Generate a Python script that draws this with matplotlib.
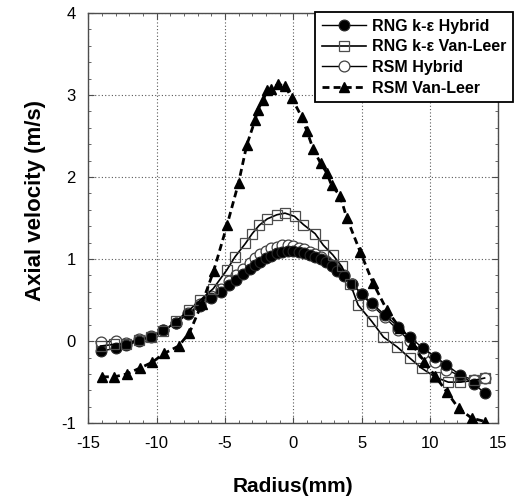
import matplotlib
matplotlib.use("Agg")
import matplotlib.pyplot as plt
from matplotlib.ticker import MultipleLocator
from matplotlib.font_manager import FontProperties

plt.rcParams['font.family'] = ['Liberation Sans', 'DejaVu Sans']
plt.rcParams['axes.unicode_minus'] = False

# RNG k-e Hybrid (filled circles)
x_rng_h = [-14.1, -13.0, -12.2, -11.3, -10.4, -9.5, -8.6, -7.7, -6.8, -6.0, -5.3, -4.7, -4.2,
           -3.7, -3.2, -2.8, -2.4, -2.0, -1.6, -1.2, -0.8, -0.4, 0.0, 0.4, 0.8, 1.2, 1.6, 2.0,
           2.4, 2.8, 3.2, 3.7, 4.3, 5.0, 5.75, 6.7, 7.7, 8.55, 9.5, 10.4, 11.2, 12.2, 13.2, 14.0]
y_rng_h = [-0.12, -0.09, -0.05, 0.0, 0.05, 0.13, 0.22, 0.33, 0.43, 0.52, 0.60, 0.68, 0.75,
           0.82, 0.88, 0.93, 0.97, 1.01, 1.04, 1.07, 1.09, 1.10, 1.10, 1.09, 1.07, 1.05, 1.03, 1.0,
           0.96, 0.91, 0.86, 0.79, 0.70, 0.58, 0.46, 0.32, 0.17, 0.05, -0.09, -0.19, -0.29, -0.41, -0.52, -0.63]

# RSM Hybrid (open circles)
x_rsm_h = x_rng_h
y_rsm_h = [-0.01, 0.0, -0.02, 0.02, 0.06, 0.13, 0.22, 0.34, 0.45, 0.55, 0.64, 0.73, 0.80,
           0.88, 0.95, 1.01, 1.06, 1.10, 1.13, 1.15, 1.17, 1.17, 1.16, 1.14, 1.12, 1.09, 1.06, 1.02,
           0.98, 0.93, 0.87, 0.80, 0.70, 0.57, 0.44, 0.29, 0.13, 0.0, -0.14, -0.25, -0.35, -0.42, -0.47, -0.45]

# RNG k-e Van-Leer (open squares)
x_rng_v = [-14.1, -13.1, -12.2, -11.3, -10.4, -9.5, -8.6, -7.6, -6.8, -5.85, -4.85, -4.25, -3.5,
           -3.0, -2.5, -1.9, -1.2, -0.6, 0.1, 0.75, 1.6, 2.2, 2.9, 3.55, 4.17, 4.75, 5.75, 6.6,
           7.6, 8.55, 9.4, 10.4, 11.35, 12.2, 13.2, 14.0]
y_rng_v = [-0.06, -0.04, -0.03, 0.01, 0.05, 0.12, 0.24, 0.38, 0.50, 0.64, 0.87, 1.03, 1.19,
           1.31, 1.41, 1.49, 1.54, 1.56, 1.52, 1.42, 1.31, 1.17, 1.05, 0.91, 0.70, 0.44, 0.24, 0.05,
           -0.07, -0.21, -0.33, -0.44, -0.50, -0.50, -0.48, -0.45]

# RSM Van-Leer (triangles)
x_rsm_v = [-14.0, -13.08, -12.17, -11.24, -10.34, -9.44, -8.39, -7.6, -6.7, -5.83, -4.85, -4.0,
           -3.4, -2.8, -2.6, -2.2, -1.9, -1.6, -1.13, -0.59, -0.1, 0.63, 1.0, 1.46, 2.0, 2.46, 2.8,
           3.43, 3.92, 4.9, 5.83, 6.85, 7.8, 8.7, 9.6, 10.4, 11.24, 12.1, 13.07, 14.04]
y_rsm_v = [-0.435, -0.435, -0.40, -0.33, -0.26, -0.15, -0.06, 0.10, 0.45, 0.85, 1.41, 1.93,
           2.39, 2.69, 2.82, 2.94, 3.06, 3.07, 3.13, 3.11, 2.96, 2.73, 2.56, 2.34, 2.17, 2.05, 1.9,
           1.77, 1.5, 1.09, 0.71, 0.38, 0.16, -0.04, -0.25, -0.43, -0.62, -0.82, -0.94, -0.98]

labels = ["RNG k-\u03b5 Hybrid", "RNG k-\u03b5 Van-Leer", "RSM Hybrid", "RSM Van-Leer"]
x_ticks = [-15, -10, -5, 0, 5, 10, 15]
y_ticks = [-1, 0, 1, 2, 3, 4]

fig = plt.figure(figsize=(5.19, 4.99), dpi=100)
ax = fig.add_axes([0.170, 0.152, 0.790, 0.822])

h3, = ax.plot(x_rsm_h, y_rsm_h, '-', color='black', lw=1.0, marker='o', ms=7.8,
              mfc='white', mec='0.25', mew=0.9, label=labels[2], zorder=3)
h1, = ax.plot(x_rng_h, y_rng_h, '-', color='black', lw=1.0, marker='o', ms=7.8,
              mfc='black', mec='0.15', mew=0.8, label=labels[0], zorder=4)
h2, = ax.plot(x_rng_v, y_rng_v, '-', color='black', lw=1.2, marker='s', ms=7.8,
              mfc='none', mec='0.3', mew=0.9, label=labels[1], zorder=5)
h4, = ax.plot(x_rsm_v, y_rsm_v, '--', color='black', lw=2.0, dashes=(2.5, 1.5), marker='^', ms=7.8,
              mfc='black', mec='black', label=labels[3], zorder=6)

ax.set_xlim(-15, 15)
ax.set_ylim(-1, 4)
ax.set_xticks(x_ticks)
ax.set_yticks(y_ticks)
ax.xaxis.set_minor_locator(MultipleLocator(1))
ax.yaxis.set_minor_locator(MultipleLocator(0.2))
ax.tick_params(which='both', direction='in', top=True, right=True, labelsize=12, color='0.3')
ax.tick_params(which='major', length=4)
ax.tick_params(which='minor', length=2.5)
ax.tick_params(axis='x', which='major', pad=9)
ax.tick_params(axis='y', which='major', pad=9)
ax.grid(True, which='major', linestyle=(0, (1, 2)), color='0.35', lw=0.8)
for s in ax.spines.values():
    s.set_color('0.3')
    s.set_linewidth(1.0)

ax.set_xlabel("Radius(mm)", fontsize=15, fontweight='bold', va='center')
ax.set_ylabel("Axial velocity (m/s)", fontsize=16, fontweight='bold', va='center')
ax.xaxis.set_label_coords(0.5, -0.154)
ax.yaxis.set_label_coords(-0.129, 0.544)

leg_font = FontProperties(family=['Liberation Sans', 'DejaVu Sans'], weight='bold', size=11.5)
leg = fig.legend([h1, h2, h3, h4], labels, loc='upper right',
                 bbox_to_anchor=(0.988, 0.975), bbox_transform=fig.transFigure,
                 prop=leg_font, frameon=True, fancybox=False,
                 edgecolor='black', framealpha=1, handlelength=2.75, labelspacing=0.35,
                 handletextpad=0.4, borderpad=0.4, borderaxespad=0)
leg.get_frame().set_linewidth(1.3)
for t in leg.get_texts():
    t.set_fontweight('bold')

fig.savefig("out.png", dpi=100)
